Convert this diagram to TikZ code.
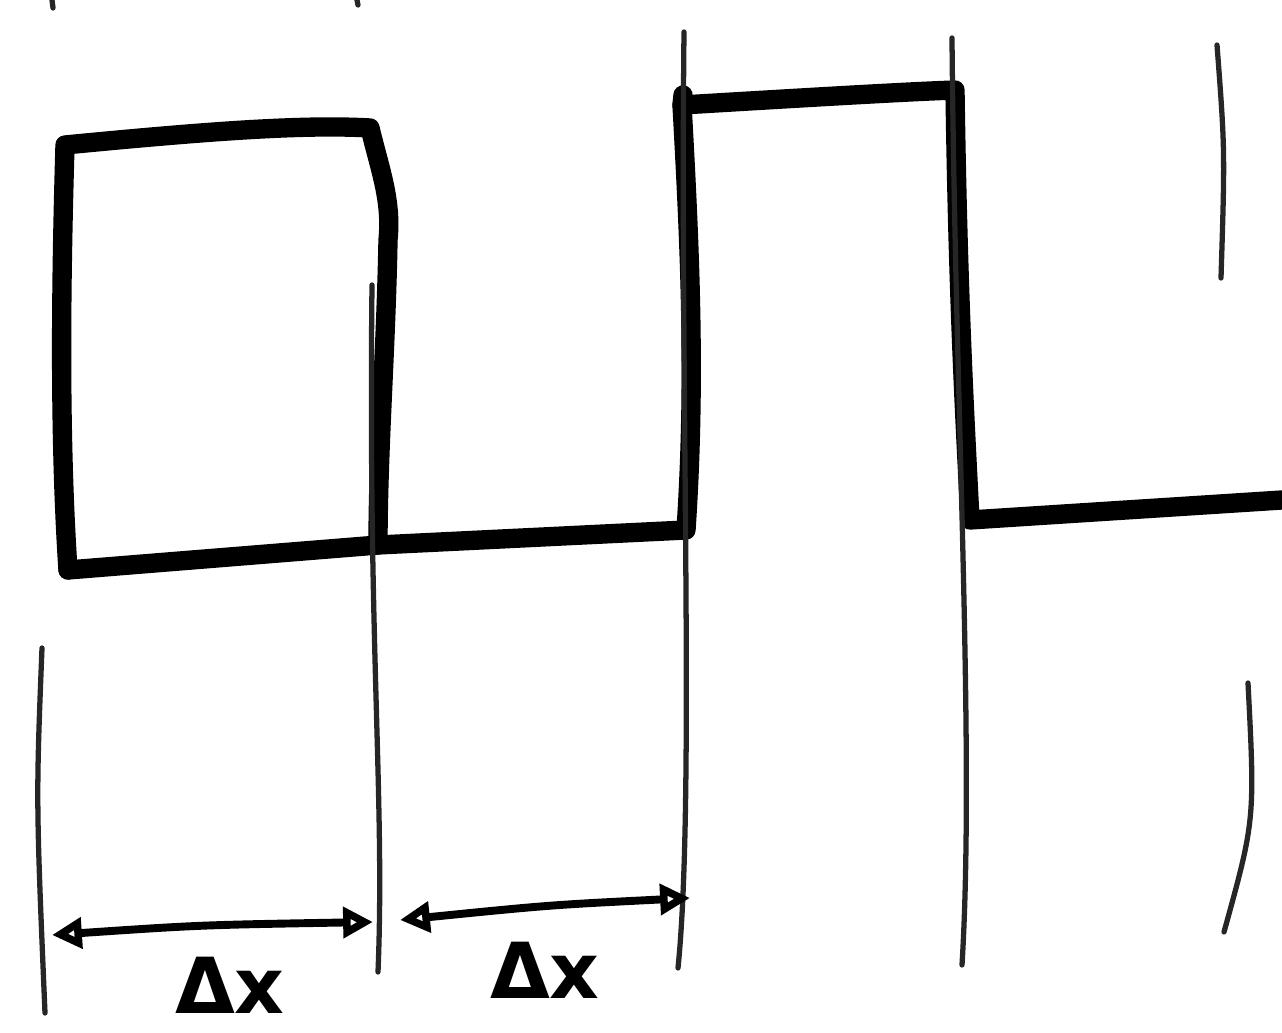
\documentclass[tikz,border=0pt]{standalone}
\usepackage{fontspec}
\newfontfamily\lblfont{DejaVu Sans}
\usetikzlibrary{arrows.meta}
\begin{document}
\begin{tikzpicture}[x=0.02cm,y=-0.02cm,
  heavy/.style={line width=11pt,line cap=round,line join=round},
  thin/.style={line width=3pt,line cap=round,draw=black!85},
  dim/.style={line width=4.5pt,line cap=round,{Triangle[open,length=17pt,width=17pt,line width=5.5pt]}-{Triangle[open,length=17pt,width=17pt,line width=5.5pt]}},
  lbl/.style={font=\lblfont\bfseries\fontsize{44}{44}\selectfont,anchor=base,inner sep=0pt}]
\useasboundingbox (0,0) rectangle (1282,1033);
% corners
\coordinate (a0) at (68,570);
\coordinate (a1) at (65,145);
\coordinate (a2) at (370,128);
\coordinate (a3) at (388,240);
\coordinate (a4) at (378,545);
\coordinate (b0) at (686,530);
\coordinate (b1) at (682,105);
\coordinate (b2) at (955,90);
\coordinate (b3) at (970,520);
\coordinate (e) at (1282,500);
% thick square wave
\draw[heavy] (a0) .. controls (58,420) and (62,250) .. (a1)
  .. controls (200,132) and (300,124) .. (a2)
  .. controls (380,170) and (392,200) .. (a3)
  .. controls (386,350) and (378,450) .. (a4)
  -- (b0) .. controls (696,380) and (690,250) .. (b1)
  .. controls (800,98) and (900,92) .. (b2)
  .. controls (958,300) and (965,420) .. (b3) -- (e);
\draw[heavy] (a4) -- (a0);
\draw[heavy] (b1) -- (683,95);
% thin guide lines
\coordinate (g1t) at (42,648); \coordinate (g1b) at (45,1013);
\draw[thin] (g1t) .. controls (36,800) .. (g1b);
\coordinate (g2t) at (372,285); \coordinate (g2b) at (378,972);
\draw[thin] (g2t) .. controls (368,650) and (385,800) .. (g2b);
\coordinate (g3t) at (684,32); \coordinate (g3b) at (678,968);
\draw[thin] (g3t) .. controls (680,400) and (695,800) .. (g3b);
\coordinate (g4t) at (952,38); \coordinate (g4b) at (962,965);
\draw[thin] (g4t) .. controls (955,400) and (975,750) .. (g4b);
\coordinate (g5t) at (1217,45); \coordinate (g5b) at (1221,278);
\draw[thin] (g5t) .. controls (1225,150) .. (g5b);
\coordinate (g6t) at (1248,683); \coordinate (g6b) at (1224,932);
\draw[thin] (g6t) .. controls (1255,820) .. (g6b);
\coordinate (m1t) at (52,0); \coordinate (m1b) at (53,8);
\draw[thin] (m1t) -- (m1b);
\coordinate (m2t) at (357,0); \coordinate (m2b) at (358,5);
\draw[thin] (m2t) -- (m2b);
% dimension arrows
\coordinate (d1a) at (52,935); \coordinate (d1b) at (373,922);
\draw[dim] (d1a) .. controls (200,925) .. (d1b);
\coordinate (d2a) at (400,920); \coordinate (d2b) at (690,898);
\draw[dim] (d2a) .. controls (550,905) .. (d2b);
% labels
\node[lbl] (l1) at (230,1013) {Δx};
\node[lbl] (l2) at (545,998) {Δx};
\end{tikzpicture}
\end{document}
